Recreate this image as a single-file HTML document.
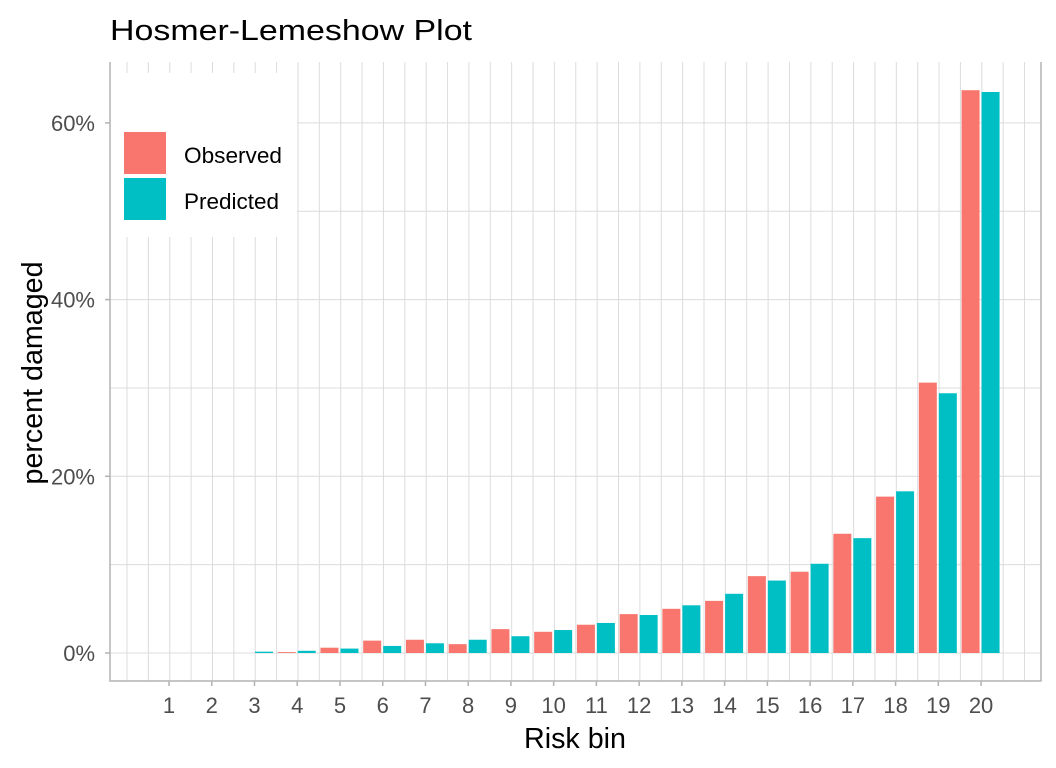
<!DOCTYPE html>
<html><head><meta charset="utf-8"><style>
html,body{margin:0;padding:0;background:#fff;}
svg{display:block;font-family:"Liberation Sans",Arial,sans-serif;}
</style></head><body>
<svg width="1056" height="768" xmlns="http://www.w3.org/2000/svg">
<rect width="1056" height="768" fill="#fff"/>
<text x="110" y="40" font-size="29" fill="#000" textLength="362" lengthAdjust="spacingAndGlyphs">Hosmer-Lemeshow Plot</text>
<g id="grid" stroke="#dcdcdc" stroke-width="1"></g>
<g id="bars"></g>
<rect x="110" y="73" width="187" height="164" fill="#fff"/>
<rect x="124" y="132" width="42" height="42" fill="#F8766D"/>
<rect x="124" y="178" width="42" height="42" fill="#00BFC4"/>
<text x="184" y="163" font-size="22" fill="#000" textLength="98" lengthAdjust="spacingAndGlyphs">Observed</text>
<text x="184" y="209" font-size="22" fill="#000" textLength="95" lengthAdjust="spacingAndGlyphs">Predicted</text>
<path d="M110,62 V681 H1041 V62" fill="none" stroke="#b3b3b3" stroke-width="1.5"/>
<g id="ticks" font-size="22" fill="#4d4d4d"></g>
<text x="575" y="748" font-size="28.5" text-anchor="middle" fill="#000" textLength="102" lengthAdjust="spacingAndGlyphs">Risk bin</text>
<text transform="translate(42,373) rotate(-90)" font-size="28.5" text-anchor="middle" fill="#000" textLength="223" lengthAdjust="spacingAndGlyphs">percent damaged</text>
</svg>
<script>
var ns="http://www.w3.org/2000/svg";
function el(t,a,p){var e=document.createElementNS(ns,t);for(var k in a)e.setAttribute(k,a[k]);p.appendChild(e);return e;}
var g=document.getElementById('grid'),b=document.getElementById('bars'),tk=document.getElementById('ticks');
var y0=653,pp=8.835;
for(var k=0;k<=42;k++){var x=127+k*21.37;el('line',{x1:x,x2:x,y1:62,y2:681},g);}
for(var p=0;p<=60;p+=10){var y=y0-p*pp;el('line',{x1:110,x2:1041,y1:y,y2:y},g);}
var obs=[0,0,0,0.1,0.6,1.4,1.5,1.0,2.7,2.4,3.2,4.4,5.0,5.9,8.7,9.2,13.5,17.7,30.6,63.7];
var pre=[0,0,0.15,0.25,0.5,0.8,1.1,1.5,1.9,2.6,3.4,4.3,5.4,6.7,8.2,10.1,13.0,18.3,29.4,63.5];
for(var i=0;i<20;i++){var t=169+i*42.74;
 if(obs[i]>0)el('rect',{x:t-19.5,y:y0-obs[i]*pp,width:18,height:obs[i]*pp,fill:'#F8766D'},b);
 if(pre[i]>0)el('rect',{x:t+0.5,y:y0-pre[i]*pp,width:18,height:pre[i]*pp,fill:'#00BFC4'},b);
 el('line',{x1:t,x2:t,y1:681,y2:686,stroke:'#b3b3b3','stroke-width':1.5},tk);
 var tx=el('text',{x:t,y:713,'text-anchor':'middle'},tk);tx.textContent=(i+1);}
for(var p=0;p<=60;p+=20){var y=y0-p*pp;
 el('line',{x1:105,x2:110,y1:y,y2:y,stroke:'#b3b3b3','stroke-width':1.5},tk);
 var tx=el('text',{x:95,y:y+8,'text-anchor':'end'},tk);tx.textContent=p+'%';}
</script>
</body></html>
